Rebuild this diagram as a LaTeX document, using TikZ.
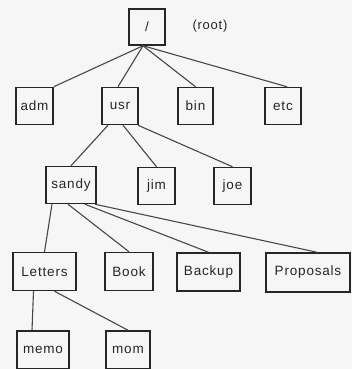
\documentclass[tikz,border=0pt]{standalone}
\usepackage{fontspec}
\setmainfont{Liberation Sans}[LetterSpace=6]
\definecolor{ink}{HTML}{262626}
\definecolor{bg}{HTML}{F6F6F6}
\begin{document}
\begin{tikzpicture}[x=1pt,y=-1pt,
  box/.style={draw=ink, line width=1.5pt, inner sep=0pt, minimum height=37pt,
    font=\fontsize{13.5}{15}\selectfont, text=ink},
  edge/.style={draw=ink!85, line width=1.1pt}]
\fill[bg] (0,0) rectangle (352,369);
\useasboundingbox (0,0) rectangle (352,369);
\node[box, minimum width=36pt, minimum height=36pt] (root) at (147,27) {/};
\node[text=ink, font=\fontsize{13}{15}\selectfont] (rootlbl) at (210,26) {(root)};
\node[box, minimum width=37pt] (adm) at (34.5,106) {adm};
\node[box, minimum width=36pt] (usr) at (120,106) {usr};
\node[box, minimum width=35pt] (bin) at (195.5,106) {bin};
\node[box, minimum width=36pt] (etc) at (283,106) {etc};
\node[box, minimum width=50pt] (sandy) at (71,185) {sandy};
\node[box, minimum width=37pt] (jim) at (156.5,186) {jim};
\node[box, minimum width=37pt] (joe) at (232.5,186) {joe};
\node[box, minimum width=63pt, minimum height=38pt] (letters) at (44.5,271.5) {Letters};
\node[box, minimum width=48pt, minimum height=38pt] (book) at (129,271.5) {Book};
\node[box, minimum width=63pt, minimum height=38pt] (backup) at (208.5,272) {Backup};
\node[box, minimum width=84pt, minimum height=39pt] (proposals) at (308,272.5) {Proposals};
\node[box, minimum width=52pt, minimum height=38pt] (memo) at (43,350) {memo};
\node[box, minimum width=44pt, minimum height=38pt] (mom) at (128,350) {mom};
\coordinate (rs) at ([xshift=-4pt]root.south);
\draw[edge] (rs) -- (adm.north east);
\draw[edge] (rs) -- ([xshift=-2pt]usr.north);
\draw[edge] (rs) -- (bin.north);
\draw[edge] (rs) -- ([xshift=4pt]etc.north);
\draw[edge] ([xshift=-12pt]usr.south) -- (sandy.north);
\draw[edge] ([xshift=3pt]usr.south) -- (jim.north);
\draw[edge] ([xshift=18pt]usr.south) -- (joe.north);
\draw[edge] ([xshift=-19pt]sandy.south) -- (letters.north);
\draw[edge] ([xshift=-3pt]sandy.south) -- (book.north);
\draw[edge] ([xshift=14pt]sandy.south) -- (backup.north);
\draw[edge] ([xshift=24pt]sandy.south) -- ([xshift=9pt]proposals.north);
\draw[edge] ([xshift=-11pt]letters.south) -- ([xshift=-11pt]memo.north);
\draw[edge] ([xshift=10pt]letters.south) -- (mom.north);
\end{tikzpicture}
\end{document}
